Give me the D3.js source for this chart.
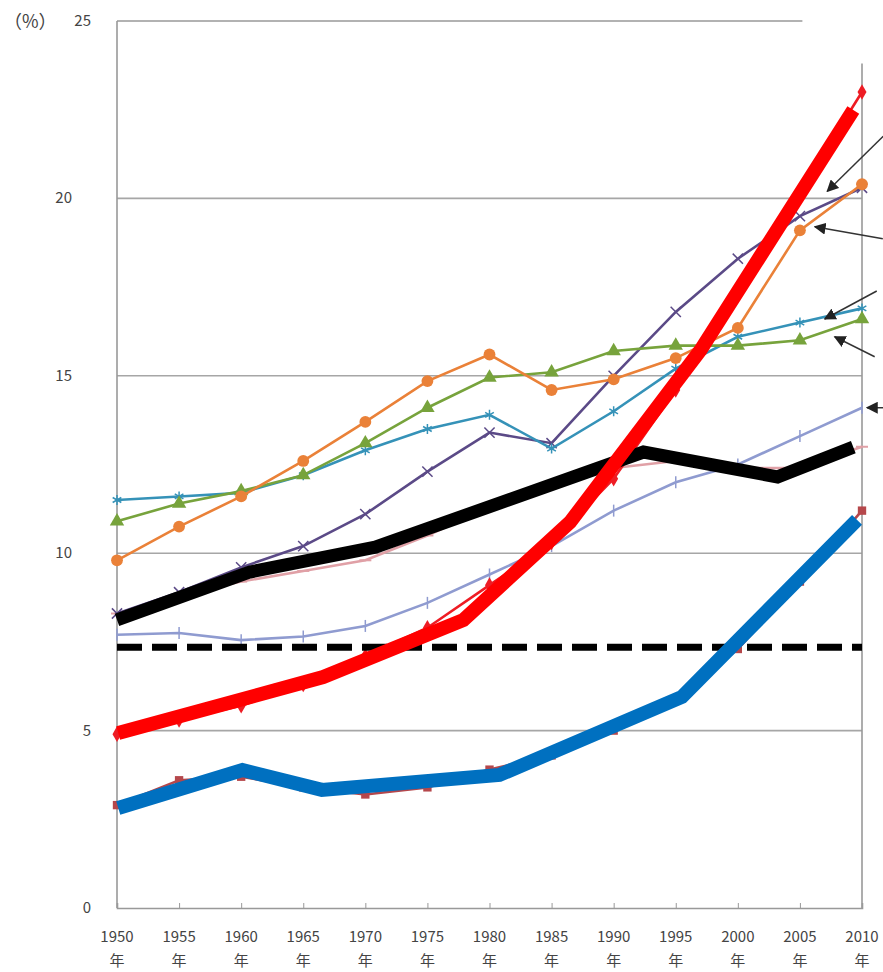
<!DOCTYPE html>
<html>
<head>
<meta charset="utf-8">
<script src="https://cdn.jsdelivr.net/npm/d3@7"></script>
<style>
  body { margin: 0; background: #fff; }
  svg { display: block; font-family: "Noto Sans CJK JP", "DejaVu Sans", sans-serif; }
</style>
</head>
<body>
<script>
// years on the category axis
var years = [1950,1955,1960,1965,1970,1975,1980,1985,1990,1995,2000,2005,2010];

// thin excel-style series (%)
var japan   = [4.9,5.3,5.7,6.3,7.1,7.9,9.1,10.3,12.1,14.6,17.4,20.2,23.0];
var korea   = [2.9,3.6,3.7,3.4,3.2,3.4,3.9,4.3,5.0,5.9,7.3,9.2,11.2];
var usa     = [8.3,8.8,9.2,9.5,9.8,10.5,11.3,11.9,12.4,12.6,12.4,12.4,13.0];
var canada  = [7.7,7.75,7.55,7.65,7.95,8.6,9.4,10.2,11.2,12.0,12.5,13.3,14.1];
var italy   = [8.3,8.9,9.6,10.2,11.1,12.3,13.4,13.1,15.0,16.8,18.3,19.5,20.3];
var germany = [9.8,10.75,11.6,12.6,13.7,14.85,15.6,14.6,14.9,15.5,16.35,19.1,20.4];
var uk      = [10.9,11.4,11.75,12.2,13.1,14.1,14.95,15.1,15.7,15.85,15.85,16.0,16.6];
var france  = [11.5,11.6,11.7,12.2,12.9,13.5,13.9,12.95,14.0,15.2,16.1,16.5,16.9];

// hand drawn thick overlays (year, %)
var redYears   = [1950.1,1966.6,1977.9,1986.5,1997.0,2009.3];
var redVals    = [4.93,6.51,8.12,10.88,15.73,22.49];
var blueYears  = [1950.1,1960.1,1966.5,1980.8,1995.5,2009.6];
var blueVals   = [2.82,3.89,3.33,3.75,5.95,10.94];
var blackYears = [1950,1960.7,1970.8,1992.4,2003.2,2009.3];
var blackVals  = [8.12,9.47,10.17,12.85,12.15,12.99];
var dashedLevel = 7.35;

var yTicks = [0,5,10,15,20,25];

// arrows coming in from the right edge (their labels lie outside the picture)
var notes = [
  {year:2007.2, value:20.2, dx:56, dy:-55},
  {year:2006.2, value:19.2, dx:68, dy:12},
  {year:2007.0, value:16.6, dx:52, dy:-28},
  {year:2007.8, value:16.1, dx:40, dy:20},
  {year:2010.4, value:14.1, dx:22, dy:0}
];

var W = 883, H = 972;
var x = d3.scaleLinear().domain([1950,2010]).range([117,862]);
var y = d3.scaleLinear().domain([0,25]).range([908,21]);

var svg = d3.select("body").append("svg").attr("width", W).attr("height", H);
svg.append("rect").attr("width", W).attr("height", H).attr("fill", "#fff");

var defs = svg.append("defs");
defs.append("marker").attr("id","ah").attr("viewBox","0 0 10 10")
  .attr("refX",9).attr("refY",5).attr("markerWidth",12).attr("markerHeight",12)
  .attr("markerUnits","userSpaceOnUse").attr("orient","auto")
  .append("path").attr("d","M0,0L10,5L0,10Z").attr("fill","#222");

// grid
svg.append("g").selectAll("line").data(yTicks.filter(function(d){return d>0 && d<25;}))
  .enter().append("line")
  .attr("x1", x(1950)).attr("x2", x(2010))
  .attr("y1", function(d){return y(d);}).attr("y2", function(d){return y(d);})
  .attr("stroke", "#a6a6a6").attr("stroke-width", 1.6);

// frame
svg.append("line").attr("x1",x(1950)).attr("x2",x(1950)).attr("y1",y(25)).attr("y2",y(0))
  .attr("stroke","#999").attr("stroke-width",1.6);
svg.append("line").attr("x1",x(2010)).attr("x2",x(2010)).attr("y1",y(23.8)).attr("y2",y(0))
  .attr("stroke","#999").attr("stroke-width",1.6);
svg.append("line").attr("x1",x(1950)).attr("x2",x(2005.2)).attr("y1",y(25)).attr("y2",y(25))
  .attr("stroke","#999").attr("stroke-width",1.6);

// x axis
var xAxis = d3.axisBottom(x).tickValues(years).tickSize(-5).tickFormat("");
var gx = svg.append("g").attr("transform","translate(0,"+y(0)+")").call(xAxis);
gx.select(".domain").attr("stroke","#999").attr("stroke-width",1.6);
gx.selectAll(".tick line").attr("stroke","#999");

var xl = svg.append("g").selectAll("text").data(years).enter().append("text")
  .attr("x", function(d){return x(d);}).attr("text-anchor","middle")
  .attr("fill","#444").style("font-size","15px");
xl.append("tspan").attr("x", function(d){return x(d);}).attr("y", 942).text(function(d){return d;});
xl.append("tspan").attr("x", function(d){return x(d);}).attr("y", 966).text("年");

// y labels
svg.append("g").selectAll("text").data(yTicks).enter().append("text")
  .attr("x", function(d){return d>=10 && d<25 ? 72 : 91;})
  .attr("y", function(d){return y(d)+5;})
  .attr("text-anchor","end").attr("fill","#444").style("font-size","15px")
  .text(function(d){return d;});
svg.append("text").attr("x",4).attr("y",28).attr("fill","#444").style("font-size","18px").text("（%）");

// thin series
var line = d3.line().x(function(d,i){return x(years[i]);}).y(function(d){return y(d);});
var series = [
  {v:canada,  c:"#8f9bd0", m:"bar"},
  {v:usa,     c:"#e0a0a6", m:"dash"},
  {v:korea,   c:"#b5474b", m:"square"},
  {v:japan,   c:"#ee1c24", m:"diamond"},
  {v:italy,   c:"#5b4a87", m:"x"},
  {v:france,  c:"#3592b8", m:"star"},
  {v:uk,      c:"#77a33c", m:"triangle"},
  {v:germany, c:"#ea8138", m:"circle"}
];
var sym = {square:d3.symbolSquare, diamond:d3.symbolDiamond, triangle:d3.symbolTriangle,
  circle:d3.symbolCircle, x:d3.symbolX, star:d3.symbolAsterisk};

series.forEach(function(s){
  svg.append("path").datum(s.v).attr("d", line).attr("fill","none")
    .attr("stroke", s.c).attr("stroke-width", 2.6);
  var g = svg.append("g");
  s.v.forEach(function(v,i){
    var px = x(years[i]), py = y(v);
    if (s.m=="bar") {
      g.append("line").attr("x1",px).attr("x2",px).attr("y1",py-6).attr("y2",py+6)
        .attr("stroke",s.c).attr("stroke-width",1.5);
    } else if (s.m=="dash") {
      g.append("line").attr("x1",px-6).attr("x2",px+6).attr("y1",py).attr("y2",py)
        .attr("stroke",s.c).attr("stroke-width",2);
    } else if (s.m=="x" || s.m=="star") {
      g.append("path").attr("d", d3.symbol(sym[s.m], 70)()).attr("transform","translate("+px+","+py+")")
        .attr("fill","none").attr("stroke",s.c).attr("stroke-width",1.5);
    } else {
      var size = s.m=="circle" ? 110 : (s.m=="triangle" ? 90 : 70);
      g.append("path").attr("d", d3.symbol(sym[s.m], size)()).attr("transform","translate("+px+","+py+")")
        .attr("fill",s.c);
    }
  });
});

// dashed threshold
svg.append("line").attr("x1",x(1950)).attr("x2",x(2010))
  .attr("y1",y(dashedLevel)).attr("y2",y(dashedLevel))
  .attr("stroke","#000").attr("stroke-width",7).attr("stroke-dasharray","25,10");

// thick overlays
var thick = d3.line().x(function(d){return x(d[0]);}).y(function(d){return y(d[1]);});
[[blackYears,blackVals,"#000",13],[blueYears,blueVals,"#0070c0",14],[redYears,redVals,"#ff0000",14]]
  .forEach(function(o){
    svg.append("path").datum(d3.zip(o[0],o[1])).attr("d", thick)
      .attr("fill","none").attr("stroke",o[2]).attr("stroke-width",o[3])
      .attr("stroke-linejoin","miter");
  });

// arrows
notes.forEach(function(n){
  var hx = x(n.year), hy = y(n.value);
  svg.append("line").attr("x1",hx+n.dx).attr("y1",hy+n.dy).attr("x2",hx).attr("y2",hy)
    .attr("stroke","#333").attr("stroke-width",1.5).attr("marker-end","url(#ah)");
});
</script>
</body>
</html>
